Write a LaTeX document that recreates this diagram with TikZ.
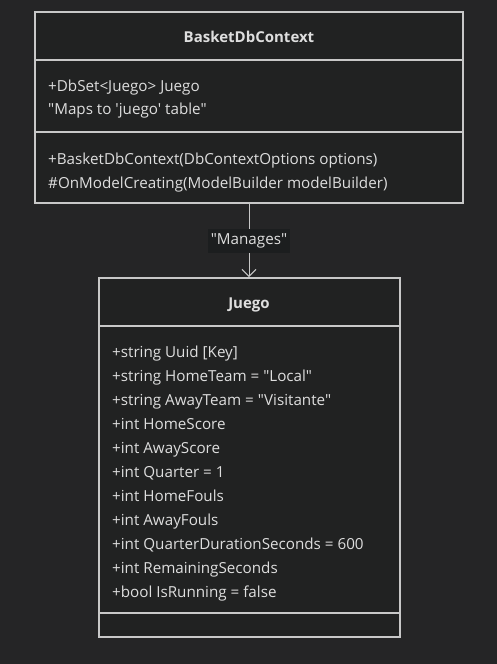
\documentclass[tikz,border=0pt]{standalone}
\usepackage{fontspec}
\setmainfont{Open Sans}[Ligatures=TeXOff]
\usetikzlibrary{arrows.meta}
\definecolor{bgc}{RGB}{37,37,38}
\definecolor{boxc}{RGB}{33,34,34}
\definecolor{linec}{RGB}{200,200,200}
\definecolor{txtc}{RGB}{222,222,222}
\definecolor{lblbg}{RGB}{28,30,31}
\newcommand{\dq}{\symbol{34}}
\newcommand{\sq}{\symbol{39}}
\begin{document}
\begin{tikzpicture}[x=1pt,y=-1pt,
  classbox/.style={draw=linec,fill=boxc,line width=1.3pt},
  divider/.style={draw=linec,line width=1.3pt},
  member/.style={anchor=base west,inner sep=0pt,text=txtc,font=\fontsize{15.2}{17}\selectfont},
  title/.style={anchor=base,inner sep=0pt,text=txtc,font=\fontsize{15}{17}\selectfont\bfseries},
  conn/.style={draw=linec,line width=1pt,-{Straight Barb[length=7pt,width=14pt,line width=1pt]}},
  lbl/.style={fill=lblbg,text=txtc,inner xsep=3pt,minimum height=24pt,font=\fontsize{15.2}{17}\selectfont}]
\fill[bgc] (0,0) rectangle (497,664);
\useasboundingbox (0,0) rectangle (497,664);
% BasketDbContext
\path[classbox] (35,12) rectangle (463,203);
\coordinate (ctxbot) at (249,203);
\draw[divider] (35,60) -- (463,60);
\draw[divider] (35,132) -- (463,132);
\node[title] (ctxname) at (249,42) {BasketDbContext};
\node[member] (c1) at (48,91) {+DbSet<Juego> Juego};
\node[member] (c2) at (48,114) {\dq Maps to \sq juego\sq{} table\dq};
\node[member] (c3) at (48,164) {+BasketDbContext(DbContextOptions options)};
\node[member] (c4) at (48,188) {\#OnModelCreating(ModelBuilder modelBuilder)};
% Juego
\path[classbox] (99,278) rectangle (400,637);
\coordinate (jtop) at (249,277);
\draw[divider] (99,326) -- (400,326);
\draw[divider] (99,613) -- (400,613);
\node[title] (jname) at (249,308) {Juego};
\foreach \t [count=\i from 0] in {+string Uuid [Key],
  +string HomeTeam = \dq Local\dq,
  +string AwayTeam = \dq Visitante\dq,
  +int HomeScore,
  +int AwayScore,
  +int Quarter = 1,
  +int HomeFouls,
  +int AwayFouls,
  +int QuarterDurationSeconds = 600,
  +int RemainingSeconds,
  +bool IsRunning = false}
  \node[member] (j\i) at (112,357+24*\i) {\t};
% connector
\draw[conn] (ctxbot) -- (jtop);
\node[lbl] (manages) at (249,241) {\dq Manages\dq};
\end{tikzpicture}
\end{document}
